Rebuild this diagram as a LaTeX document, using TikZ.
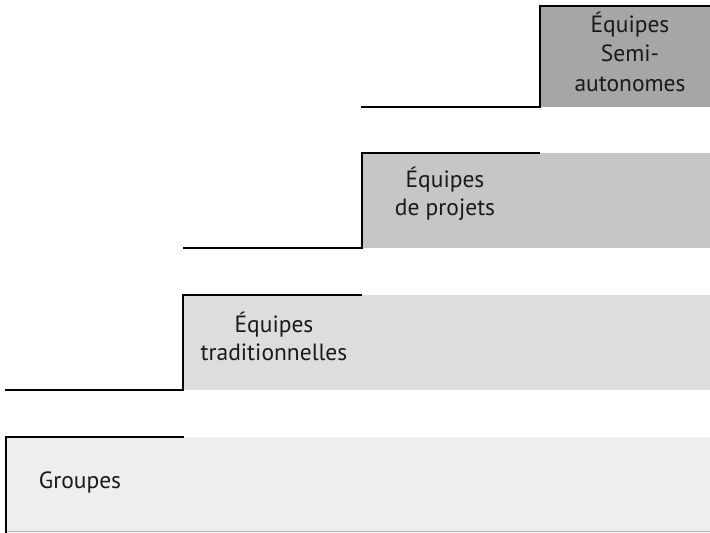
\documentclass[tikz,border=0pt]{standalone}
\usepackage{fontspec}
\setmainfont{PT Sans}
\definecolor{barA}{HTML}{EEEEEE}
\definecolor{barB}{HTML}{DDDDDD}
\definecolor{barC}{HTML}{C6C6C6}
\definecolor{barD}{HTML}{A6A6A6}
\begin{document}
\begin{tikzpicture}[x=1pt,y=-1pt,
  stepline/.style={draw=black,line width=2pt,line cap=butt,line join=miter},
  lbl/.style={align=center,anchor=base,inner sep=0pt,font=\fontsize{23.5}{28}\selectfont,text=black!90}]
\useasboundingbox (0,0) rectangle (710,533);
% fills
\fill[barA] (6,437) rectangle (710,531);
\fill[barB] (183,295) rectangle (710,390);
\fill[barC] (362,153) rectangle (710,248);
\fill[barD] (540,6) rectangle (710,107);
\draw[gray!60,line width=1pt] (6,531.5) -- (710,531.5);
% step lines
\draw[stepline] (6,533) -- (6,437) -- (184,437);
\draw[stepline] (5,390) -- (183,390) -- (183,295) -- (362,295);
\draw[stepline] (183,248) -- (362,248) -- (362,153) -- (540,153);
\draw[stepline] (361,107) -- (540,107) -- (540,6) -- (710,6);
% labels
\node[lbl] (groupes) at (80,488) {Groupes};
\node[lbl] (trad) at (274,360) {Équipes\\traditionnelles};
\node[lbl] (proj) at (445,215) {Équipes\\de projets};
\node[lbl,font=\fontsize{23.5}{29.5}\selectfont] (semi) at (630,91) {Équipes\\Semi-\\autonomes};
\end{tikzpicture}
\end{document}
